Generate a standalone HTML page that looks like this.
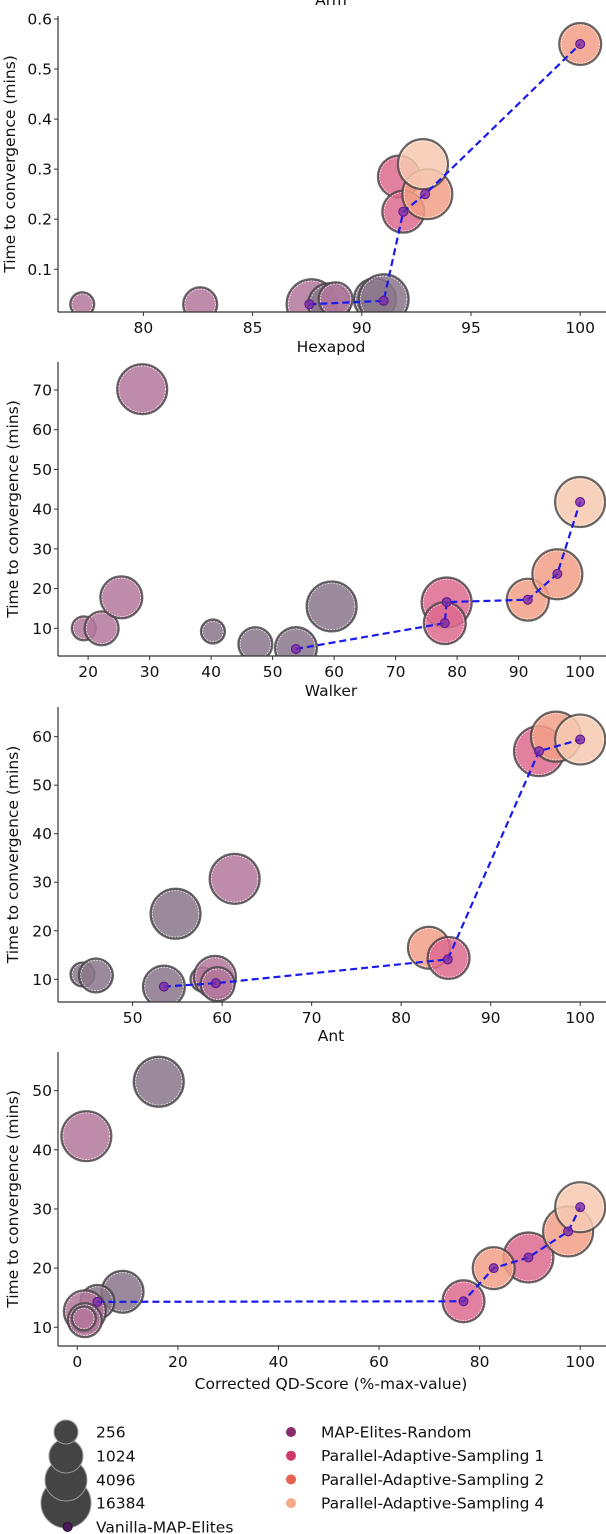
<!DOCTYPE html>
<html><head><meta charset="utf-8"><style>
body{margin:0;background:#fff;}
svg{display:block;font-family:"DejaVu Sans","Liberation Sans",sans-serif;}
</style></head><body>
<svg id="chart" width="606" height="1534" viewBox="0 0 606 1534" xmlns="http://www.w3.org/2000/svg"></svg>
<script>
// ---- data ----
const colorNames = ["Vanilla-MAP-Elites","MAP-Elites-Random","Parallel-Adaptive-Sampling 1","Parallel-Adaptive-Sampling 2","Parallel-Adaptive-Sampling 4"];
const sizeLabels = ["256","1024","4096","16384"];
// panel 1 Arm
const armX = [77.2, 82.6, 87.7, 88.5, 88.8, 90.6, 91.0, 91.7, 91.9, 93.0, 92.8, 100];
const armY = [0.03, 0.03, 0.03, 0.03, 0.04, 0.04, 0.04, 0.285, 0.215, 0.25, 0.31, 0.55];
const armAlg = [1, 1, 1, 0, 1, 0, 0, 2, 2, 3, 4, 3];
const armSize = [0, 1, 3, 2, 1, 2, 3, 2, 2, 3, 3, 2];
const armLineX = [87.6, 91.0, 91.9, 92.9, 100];
const armLineY = [0.03, 0.037, 0.215, 0.25, 0.55];
// panel 2 Hexapod
const hexX = [19.3, 22.2, 25.4, 28.8, 40.3, 47.2, 53.8, 59.6, 78.3, 78.0, 91.5, 96.3, 100];
const hexY = [10, 10, 17.8, 70.2, 9.2, 6, 5, 15.5, 16.5, 11.3, 17.2, 23.6, 41.8];
const hexAlg = [1, 1, 1, 1, 0, 0, 0, 0, 2, 2, 3, 3, 4];
const hexSize = [0, 1, 2, 3, 0, 1, 2, 3, 3, 2, 2, 3, 3];
const hexLineX = [53.8, 78.0, 78.3, 91.5, 96.3, 100];
const hexLineY = [4.8, 11.3, 16.6, 17.2, 23.7, 41.8];
// panel 3 Walker
const walX = [44.4, 45.9, 53.5, 54.8, 57.8, 59.2, 59.5, 61.4, 83.1, 85.3, 95.4, 97.3, 100];
const walY = [11, 10.8, 8.5, 23.5, 10, 10.5, 9, 30.7, 16.5, 14.4, 57, 60, 59.4];
const walAlg = [0, 0, 0, 0, 1, 1, 1, 1, 3, 2, 2, 3, 4];
const walSize = [0, 1, 2, 3, 0, 2, 1, 3, 2, 2, 3, 3, 3];
const walLineX = [53.5, 59.3, 85.2, 95.4, 100];
const walLineY = [8.5, 9.2, 14.1, 57, 59.4];
// panel 4 Ant
const antX = [1.8, 16.2, 9.0, 4.0, 1.5, 1.5, 1.3, 76.8, 89.7, 82.8, 97.6, 100];
const antY = [42.3, 51.5, 16, 14.3, 12.7, 11.2, 11.5, 14.4, 21.8, 20, 26.2, 30.3];
const antAlg = [1, 0, 0, 0, 1, 1, 1, 2, 2, 3, 3, 4];
const antSize = [3, 3, 2, 1, 2, 1, 0, 2, 3, 2, 3, 3];
const antLineX = [4.0, 76.8, 82.8, 89.7, 97.6, 100];
const antLineY = [14.3, 14.4, 20, 21.8, 26.2, 30.3];
// ticks
const armXTicks = [80, 85, 90, 95, 100];
const armYTicks = [0.1, 0.2, 0.3, 0.4, 0.5, 0.6];
const hexXTicks = [20, 30, 40, 50, 60, 70, 80, 90, 100];
const hexYTicks = [10, 20, 30, 40, 50, 60, 70];
const walXTicks = [50, 60, 70, 80, 90, 100];
const walYTicks = [10, 20, 30, 40, 50, 60];
const antXTicks = [0, 20, 40, 60, 80, 100];
const antYTicks = [10, 20, 30, 40, 50];

const fills = ["#8a7589", "#b3779b", "#dd6a8e", "#f29f86", "#f7c9b0"];
const radii = [12, 17, 21, 25];
const NS = "http://www.w3.org/2000/svg";
const svg = document.getElementById("chart");
function mk(tag, attrs, parent) {
  const e = document.createElementNS(NS, tag);
  for (const k in attrs) e.setAttribute(k, attrs[k]);
  (parent || svg).appendChild(e);
  return e;
}

function panel(cfg) {
  const g = mk("g", {});
  
  
  const sx = v => cfg.x0px + (v - cfg.x0v) * cfg.xs;
  const sy = v => cfg.y0px - (v - cfg.y0v) * cfg.ys;
  const clipId = "clip-" + cfg.name;
  const cp = mk("clipPath", {id: clipId}, g);
  mk("rect", {x: cfg.left, y: cfg.top - 30, width: 606 - cfg.left, height: cfg.bottom - cfg.top + 30}, cp);
  const bg = mk("g", {"clip-path": "url(#" + clipId + ")"}, g);
  for (let i = 0; i < cfg.xs_.length; i++) {
    const r = radii[cfg.size[i]];
    const c = mk("circle", {cx: sx(cfg.xs_[i]), cy: sy(cfg.ys_[i]), r: r, fill: fills[cfg.alg[i]], "fill-opacity": 0.85, stroke: "#444", "stroke-width": 2.2, "stroke-opacity": 0.8}, bg);
    
    
    mk("circle", {cx: sx(cfg.xs_[i]), cy: sy(cfg.ys_[i]), r: r - 1.8, fill: "none", stroke: "#fff", "stroke-width": 0.7, "stroke-dasharray": "1.5 1.5"}, bg);
  }
  const pts = cfg.lx.map((v, i) => sx(v) + "," + sy(cfg.ly[i])).join(" ");
  const pl = mk("polyline", {points: pts, fill: "none", stroke: "#1a1aee", "stroke-width": 2.2, "stroke-dasharray": "7 4"}, bg);
  
  
  for (let i = 0; i < cfg.lx.length; i++) {
    const m = mk("circle", {cx: sx(cfg.lx[i]), cy: sy(cfg.ly[i]), r: 4.5, fill: "#7b2aa8", "fill-opacity": 0.8, stroke: "#5a1590", "stroke-width": 1}, bg);
    
    
  }
  mk("line", {x1: cfg.left, y1: cfg.top, x2: cfg.left, y2: cfg.bottom, stroke: "#333", "stroke-width": 1.2}, g);
  mk("line", {x1: cfg.left, y1: cfg.bottom, x2: 606, y2: cfg.bottom, stroke: "#333", "stroke-width": 1.2}, g);
  cfg.xt.forEach(t => {
    const x = sx(t);
    mk("line", {x1: x, y1: cfg.bottom, x2: x, y2: cfg.bottom + 4, stroke: "#333"}, g);
    const tx = mk("text", {x: x, y: cfg.bottom + 21, "font-size": 15.5, "text-anchor": "middle", fill: "#111"}, g);
    tx.textContent = t;
    
    
  });
  cfg.yt.forEach(t => {
    const y = sy(t);
    mk("line", {x1: cfg.left - 4, y1: y, x2: cfg.left, y2: y, stroke: "#333"}, g);
    const tx = mk("text", {x: cfg.left - 6, y: y + 5.5, "font-size": 15.5, "text-anchor": "end", fill: "#111"}, g);
    tx.textContent = t;
    
    
  });
  const yl = mk("text", {x: 0, y: 0, "font-size": 15.5, "text-anchor": "middle", fill: "#111", transform: "translate(" + cfg.ylx + "," + ((cfg.top + cfg.bottom) / 2) + ") rotate(-90)"}, g);
  yl.textContent = "Time to convergence (mins)";
  
  
  const xl = mk("text", {x: 331, y: cfg.xlabelY, "font-size": 15.5, "text-anchor": "middle", fill: "#111"}, g);
  xl.textContent = cfg.xlabel;
  
  
}

const t0 = mk("text", {x: 331, y: 5, "font-size": 15.5, "text-anchor": "middle", fill: "#111"});
t0.textContent = "Arm";



panel({name: "arm", xs_: armX, ys_: armY, alg: armAlg, size: armSize, lx: armLineX, ly: armLineY, xt: armXTicks, yt: armYTicks,
  x0px: 143.4, x0v: 80, xs: 21.84, y0px: 19, y0v: 0.6, ys: 500.5, left: 58, top: 16, bottom: 312, ylx: 15, xlabel: "Hexapod", xlabelY: 352});
panel({name: "hexapod", xs_: hexX, ys_: hexY, alg: hexAlg, size: hexSize, lx: hexLineX, ly: hexLineY, xt: hexXTicks, yt: hexYTicks,
  x0px: 88.1, x0v: 20, xs: 6.15, y0px: 628.3, y0v: 10, ys: 3.972, left: 58, top: 362, bottom: 656, ylx: 18, xlabel: "Walker", xlabelY: 696});
panel({name: "walker", xs_: walX, ys_: walY, alg: walAlg, size: walSize, lx: walLineX, ly: walLineY, xt: walXTicks, yt: walYTicks,
  x0px: 132.6, x0v: 50, xs: 8.952, y0px: 979.3, y0v: 10, ys: 4.853, left: 58, top: 707, bottom: 1002, ylx: 18, xlabel: "Ant", xlabelY: 1041});
panel({name: "ant", xs_: antX, ys_: antY, alg: antAlg, size: antSize, lx: antLineX, ly: antLineY, xt: antXTicks, yt: antYTicks,
  x0px: 77.3, x0v: 0, xs: 5.029, y0px: 1327.3, y0v: 10, ys: 5.917, left: 58, top: 1052, bottom: 1346, ylx: 18, xlabel: "Corrected QD-Score (%-max-value)", xlabelY: 1389});

// legend
const lg = mk("g", {});


const legY = [1432, 1456, 1480, 1503];
for (let i = 3; i >= 0; i--) {
  mk("circle", {cx: 66, cy: legY[i], r: radii[i], fill: "#444", stroke: "#999", "stroke-width": 1}, lg);
}
for (let i = 0; i < 4; i++) {
  const t = mk("text", {x: 96, y: legY[i] + 5.5, "font-size": 15.5, fill: "#111"}, lg);
  t.textContent = sizeLabels[i];
  
  
}
mk("circle", {cx: 67.6, cy: 1527, r: 4.5, fill: "#4a1a5a", stroke: "#2a0a3a"}, lg);
const tv = mk("text", {x: 96, y: 1532.5, "font-size": 15.5, fill: "#111"}, lg);
tv.textContent = colorNames[0];


const mcols = ["#8a2a6a", "#d03a6a", "#e8604e", "#f5a886"];
for (let i = 1; i < 5; i++) {
  const y = 1432 + (i - 1) * 23.7;
  mk("circle", {cx: 291, cy: y, r: 5, fill: mcols[i - 1]}, lg);
  const t = mk("text", {x: 321, y: y + 5.5, "font-size": 15.5, fill: "#111"}, lg);
  t.textContent = colorNames[i];
  
  
}
</script>
</body></html>
